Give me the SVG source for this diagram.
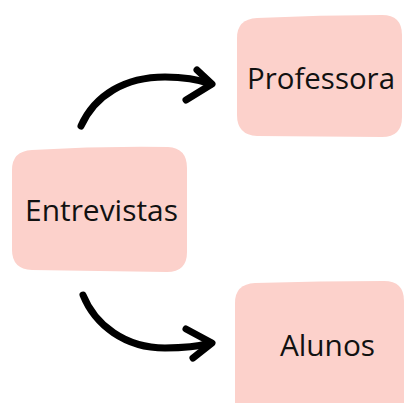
<svg xmlns="http://www.w3.org/2000/svg" width="404" height="403" viewBox="0 0 404 403">
<style>
.box{fill:#fcd1cb;}
.lbl{font-family:"Open Sans","Noto Sans",sans-serif;font-size:30px;fill:#111;}
.arr{fill:none;stroke:#000;stroke-width:7;stroke-linecap:round;stroke-linejoin:round;}
</style>
<rect width="404" height="403" fill="#fff"/>
<g id="connectors">
<path class="arr" d="M81,126 C95,95 125,77 165,77 C185,77 200,80 211,84"/>
<path class="arr" d="M197,70 L212,84 L186,100"/>
<path class="arr" d="M83,295 C95,325 125,348 165,348 C185,348 200,346 211,343"/>
<path class="arr" d="M186,329 L212,343 L193,358"/>
</g>
<g id="entrevistas">
<path class="box" d="M32,150 Q100,146 168,147 Q187,148 187,168 L187,252 Q187,272 167,272 L32,270 Q12,269 12,250 L12,170 Q12,151 32,150 Z"/>
<text class="lbl" x="25" y="221" textLength="153" lengthAdjust="spacingAndGlyphs">Entrevistas</text>
</g>
<g id="professora">
<path class="box" d="M257,18 Q320,15 382,15 Q402,15 402,35 L402,117 Q402,137 382,137 L257,136 Q237,135 237,115 L237,38 Q237,19 257,18 Z"/>
<text class="lbl" x="247" y="89" textLength="148" lengthAdjust="spacingAndGlyphs">Professora</text>
</g>
<g id="alunos">
<path class="box" d="M255,283 Q320,281 384,281 Q404,281 404,301 L404,410 L235,410 L235,303 Q235,284 255,283 Z"/>
<text class="lbl" x="280" y="356" textLength="95" lengthAdjust="spacingAndGlyphs">Alunos</text>
</g>
</svg>
